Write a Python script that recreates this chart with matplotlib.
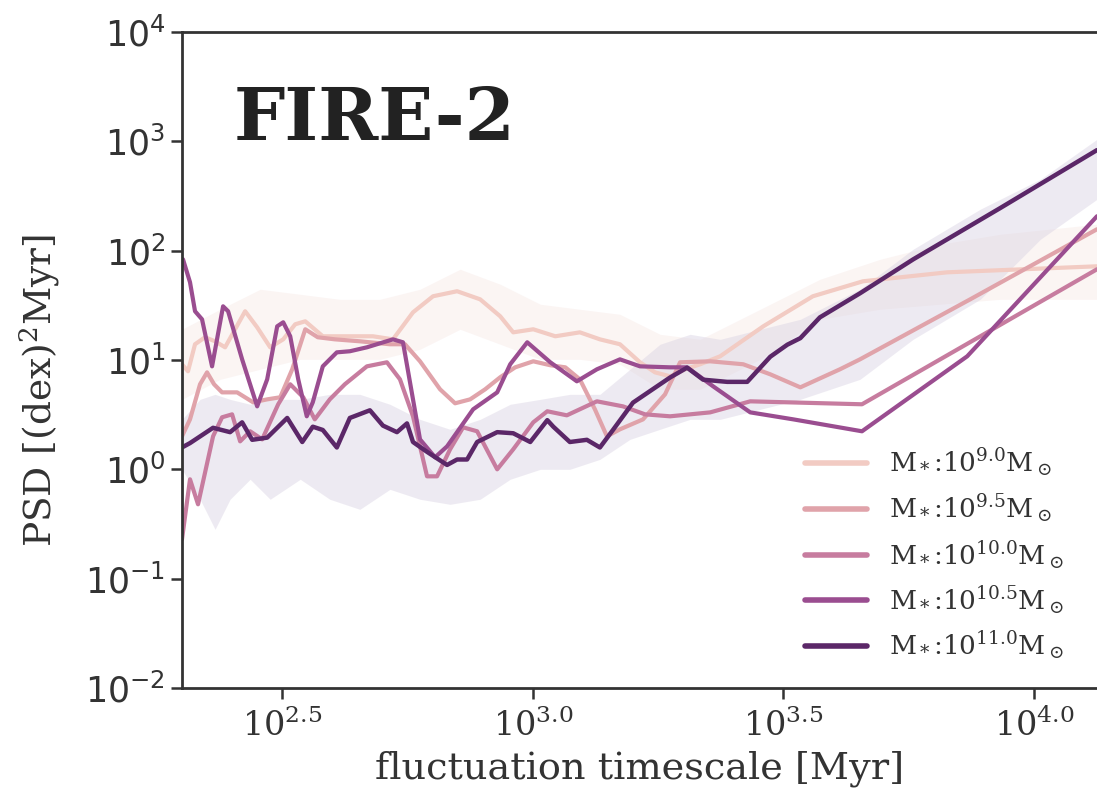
import numpy as np
import matplotlib
matplotlib.use("Agg")
import matplotlib.pyplot as plt

# ---------------- data (log10 timescale [Myr], log10 PSD) ----------------
labels = [r"M$_*$:10$^{9.0}$M$_\odot$", r"M$_*$:10$^{9.5}$M$_\odot$",
          r"M$_*$:10$^{10.0}$M$_\odot$", r"M$_*$:10$^{10.5}$M$_\odot$",
          r"M$_*$:10$^{11.0}$M$_\odot$"]
colors = ["#f2cbc3", "#e0a3aa", "#c77c9f", "#9a4d90", "#5b2768"]

lx_90 = [2.300, 2.312, 2.326, 2.346, 2.366, 2.386, 2.406, 2.426, 2.450, 2.476, 2.502,
         2.526, 2.546, 2.581, 2.629, 2.681, 2.721, 2.761, 2.801, 2.849, 2.895, 2.935,
         2.961, 3.001, 3.045, 3.094, 3.134, 3.174, 3.214, 3.244, 3.274, 3.304, 3.334,
         3.374, 3.460, 3.559, 3.659, 3.827, 4.126]
ly_90 = [0.961, 0.897, 1.144, 1.208, 1.171, 1.116, 1.281, 1.446, 1.299, 1.116, 1.189,
         1.327, 1.354, 1.217, 1.217, 1.217, 1.189, 1.436, 1.583, 1.629, 1.555, 1.400,
         1.253, 1.281, 1.217, 1.253, 1.189, 1.144, 0.979, 0.887, 0.851, 0.915, 0.961,
         1.034, 1.308, 1.583, 1.720, 1.802, 1.857]

lx_95 = [2.300, 2.316, 2.336, 2.350, 2.364, 2.380, 2.410, 2.442, 2.470, 2.496, 2.520,
         2.546, 2.571, 2.605, 2.655, 2.715, 2.745, 2.775, 2.815, 2.845, 2.875, 2.905,
         2.935, 2.965, 3.001, 3.035, 3.065, 3.094, 3.124, 3.148, 3.174, 3.220, 3.264,
         3.294, 3.354, 3.420, 3.474, 3.534, 3.613, 3.653, 3.873, 4.126]
ly_95 = [0.302, 0.457, 0.778, 0.887, 0.778, 0.704, 0.704, 0.613, 0.640, 0.659, 0.915,
         1.281, 1.208, 1.189, 1.171, 1.144, 1.144, 0.988, 0.732, 0.604, 0.640, 0.732,
         0.842, 0.933, 0.988, 0.952, 0.933, 0.823, 0.549, 0.302, 0.366, 0.457, 0.686,
         0.979, 0.988, 0.961, 0.869, 0.750, 0.915, 1.006, 1.555, 2.196]

lx_100 = [2.300, 2.316, 2.332, 2.362, 2.380, 2.400, 2.416, 2.436, 2.460, 2.492, 2.516,
          2.542, 2.565, 2.595, 2.625, 2.669, 2.709, 2.735, 2.761, 2.789, 2.809, 2.835,
          2.861, 2.889, 2.929, 2.961, 3.001, 3.029, 3.068, 3.128, 3.180, 3.224, 3.274,
          3.354, 3.434, 3.657, 4.126]
ly_100 = [-0.640, -0.091, -0.320, 0.302, 0.476, 0.503, 0.256, 0.348, 0.274, 0.595, 0.778,
          0.659, 0.457, 0.640, 0.778, 0.942, 0.979, 0.823, 0.485, -0.064, -0.064, 0.183,
          0.384, 0.348, 0.000, 0.183, 0.430, 0.531, 0.494, 0.622, 0.576, 0.503, 0.485,
          0.521, 0.622, 0.595, 1.830]

lx_105 = [2.302, 2.316, 2.326, 2.340, 2.360, 2.382, 2.392, 2.420, 2.450, 2.470, 2.490,
          2.502, 2.516, 2.532, 2.549, 2.561, 2.581, 2.609, 2.635, 2.669, 2.721, 2.741,
          2.761, 2.775, 2.805, 2.829, 2.881, 2.929, 2.955, 2.989, 3.035, 3.088, 3.128,
          3.174, 3.214, 3.274, 3.308, 3.360, 3.434, 3.520, 3.657, 3.867, 4.126]
ly_105 = [1.921, 1.711, 1.446, 1.372, 0.942, 1.491, 1.446, 1.006, 0.576, 0.823, 1.308,
          1.345, 1.217, 0.823, 0.485, 0.613, 0.942, 1.070, 1.080, 1.116, 1.189, 1.162,
          0.640, 0.274, 0.110, 0.210, 0.549, 0.704, 0.961, 1.162, 0.979, 0.805, 0.915,
          1.006, 0.942, 0.933, 0.933, 0.759, 0.521, 0.457, 0.348, 1.034, 2.315]

lx_110 = [2.300, 2.316, 2.362, 2.396, 2.420, 2.440, 2.470, 2.510, 2.540, 2.561, 2.581,
          2.609, 2.635, 2.675, 2.701, 2.729, 2.749, 2.761, 2.789, 2.829, 2.849, 2.869,
          2.889, 2.929, 2.961, 2.995, 3.029, 3.041, 3.074, 3.108, 3.134, 3.160, 3.200,
          3.274, 3.308, 3.340, 3.388, 3.428, 3.474, 3.508, 3.534, 3.573, 3.653, 3.759,
          3.933, 4.126]
ly_110 = [0.20, 0.24, 0.38, 0.34, 0.43, 0.27, 0.29, 0.47, 0.25, 0.39, 0.36,
          0.20, 0.47, 0.54, 0.40, 0.34, 0.42, 0.25, 0.16, 0.04, 0.09, 0.09,
          0.25, 0.34, 0.33, 0.25, 0.45, 0.39, 0.25, 0.27, 0.20, 0.36, 0.61,
          0.84, 0.93, 0.82, 0.80, 0.80, 1.03, 1.14, 1.20, 1.39, 1.61, 1.92,
          2.39, 2.92]

# scatter bands (log10)
band_lx_110 = [2.300, 2.336, 2.366, 2.396, 2.436, 2.476, 2.536, 2.595, 2.655, 2.715,
               2.775, 2.835, 2.895, 2.955, 3.015, 3.074, 3.134, 3.194, 3.254, 3.314,
               3.374, 3.454, 3.534, 3.653, 3.759, 3.893, 4.013, 4.126]
band_hi_110 = [0.457, 0.640, 0.686, 0.640, 0.595, 0.640, 0.640, 0.686, 0.686, 0.595,
               0.457, 0.366, 0.457, 0.595, 0.640, 0.686, 0.686, 0.915, 1.144, 1.235,
               1.189, 1.281, 1.372, 1.647, 2.013, 2.379, 2.653, 3.019]
band_lo_110 = [0.000, -0.274, -0.549, -0.274, -0.091, -0.274, -0.091, -0.274, -0.366,
               -0.183, -0.274, -0.320, -0.274, -0.091, 0.000, 0.000, 0.091, 0.274, 0.366,
               0.457, 0.457, 0.549, 0.640, 0.823, 1.189, 1.555, 2.104, 2.470]

band_lx_90 = [2.300, 2.376, 2.456, 2.536, 2.615, 2.695, 2.775, 2.855, 2.935, 3.015,
              3.094, 3.174, 3.254, 3.334, 3.454, 3.573, 3.693, 3.813, 3.933, 4.126]
band_hi_90 = [1.281, 1.464, 1.647, 1.601, 1.555, 1.555, 1.647, 1.830, 1.693, 1.510,
              1.464, 1.418, 1.235, 1.189, 1.464, 1.738, 1.921, 2.059, 2.150, 2.242]
band_lo_90 = [0.640, 0.823, 0.915, 1.006, 1.006, 1.006, 1.098, 1.281, 1.144, 1.006,
              1.006, 0.961, 0.732, 0.732, 1.006, 1.372, 1.464, 1.510, 1.555, 1.555]

x_ticks_log = [2.5, 3.0, 3.5, 4.0]
x_tick_labels = [r"$10^{2.5}$", r"$10^{3.0}$", r"$10^{3.5}$", r"$10^{4.0}$"]
y_ticks_log = [-2, -1, 0, 1, 2, 3, 4]

series_x = [lx_90, lx_95, lx_100, lx_105, lx_110]
series_y = [ly_90, ly_95, ly_100, ly_105, ly_110]

# ---------------- figure ----------------
fig = plt.figure(figsize=(10.97, 7.94), dpi=100)
ax = fig.add_axes([0.1659, 0.1335, 0.8341, 0.8262])

ax.fill_between(10 ** np.array(band_lx_90), 10 ** np.array(band_lo_90),
                10 ** np.array(band_hi_90), color="#f6e6e3", alpha=0.4, lw=0)
ax.fill_between(10 ** np.array(band_lx_110), 10 ** np.array(band_lo_110),
                10 ** np.array(band_hi_110), color="#d9d2e3", alpha=0.45, lw=0)

lws = [3.0, 3.0, 3.0, 3.0, 3.2]
for sx, sy, c, lab, lw in zip(series_x, series_y, colors, labels, lws):
    ax.plot(10 ** np.array(sx), 10 ** np.array(sy), color=c, lw=lw, label=lab,
            solid_joinstyle="round", solid_capstyle="round")

ax.set_xscale("log")
ax.set_yscale("log")
ax.set_xlim(10 ** 2.3, 10 ** 4.126)
ax.set_ylim(1e-2, 1e4)
ax.set_xticks([10 ** v for v in x_ticks_log])
ax.set_xticklabels(x_tick_labels)
ax.set_yticks([10.0 ** v for v in y_ticks_log])
ax.minorticks_off()

for s in ["left", "bottom", "top"]:
    ax.spines[s].set_color("#333333")
    ax.spines[s].set_linewidth(2.0)
ax.spines["right"].set_visible(False)

ax.tick_params(axis="both", which="major", direction="out", length=8, width=1.8,
               color="#333333", labelcolor="#333333")
ax.tick_params(axis="y", labelsize=25, pad=4)
ax.tick_params(axis="x", labelsize=24, pad=7)
for t in ax.get_xticklabels():
    t.set_math_fontfamily("dejavuserif")
    t.set_family("DejaVu Serif")

ax.set_xlabel("fluctuation timescale [Myr]", family="DejaVu Serif", fontsize=27.5,
              color="#333333")
ax.set_ylabel(r"PSD [(dex)$^2$Myr]", family="DejaVu Serif", fontsize=27,
              color="#333333", math_fontfamily="dejavuserif")
ax.xaxis.set_label_coords(0.5, -0.095)
ax.yaxis.set_label_coords(-0.131, 0.454)

ax.text(0.056, 0.836, "FIRE-2", transform=ax.transAxes, family="DejaVu Serif",
        fontweight="bold", fontsize=52, color="#222222", va="baseline", ha="left")

leg = ax.legend(loc="lower right", bbox_to_anchor=(0.99, 0.005), frameon=False,
                handlelength=2.35, handletextpad=0.85, labelspacing=0.5,
                prop={"family": "DejaVu Serif", "size": 19})
for t in leg.get_texts():
    t.set_math_fontfamily("dejavuserif")
    t.set_color("#333333")
for h in leg.get_lines():
    h.set_linewidth(4.0)

fig.savefig("out.png", dpi=100, facecolor="white")
